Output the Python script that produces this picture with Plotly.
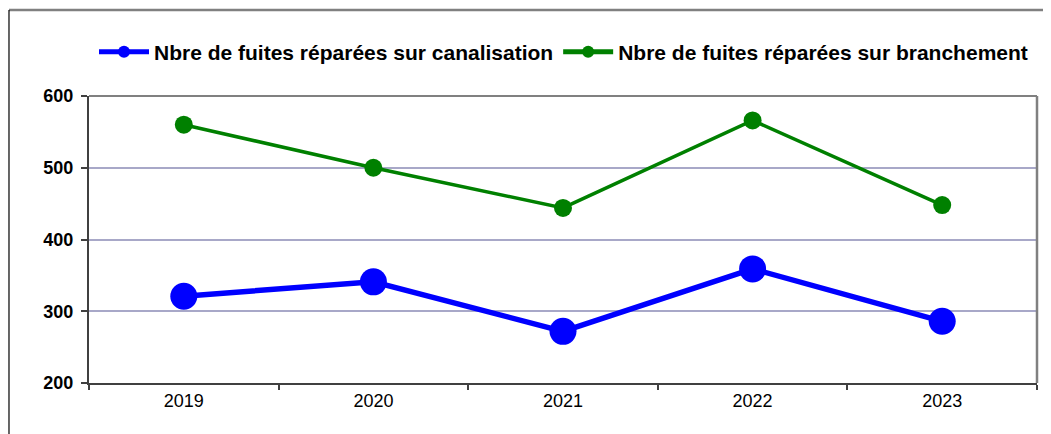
import plotly.graph_objects as go

years = ["2019", "2020", "2021", "2022", "2023"]
canalisation = [321, 341, 272, 359, 286]
branchement = [560, 500, 444, 566, 448]
name_canal = "Nbre de fuites réparées sur canalisation"
name_branch = "Nbre de fuites réparées sur branchement"
y_ticks = [200, 300, 400, 500, 600]

fig = go.Figure()
fig.add_trace(go.Scatter(
    x=years, y=canalisation, name=name_canal, mode="lines+markers",
    line=dict(color="#0000FF", width=5.5),
    marker=dict(color="#0000FF", size=27),
))
fig.add_trace(go.Scatter(
    x=years, y=branchement, name=name_branch, mode="lines+markers",
    line=dict(color="#008000", width=3.5),
    marker=dict(color="#008000", size=18),
))

# outer chart frame (only top and left visible in reference)
fig.add_shape(type="line", xref="paper", yref="paper", x0=-0.0844, x1=1.03, y0=1.2997, y1=1.2997,
              line=dict(color="#808080", width=2.5))
fig.add_shape(type="line", xref="paper", yref="paper", x0=-0.0844, x1=-0.0844, y0=-0.3, y1=1.2997,
              line=dict(color="#000000", width=1.2))
# plot-area top and right border
fig.add_shape(type="line", xref="paper", yref="paper", x0=0, x1=1, y0=1, y1=1,
              line=dict(color="#808080", width=2))
fig.add_shape(type="line", xref="paper", yref="paper", x0=1, x1=1, y0=0, y1=1,
              line=dict(color="#808080", width=2.5))

fig.update_layout(
    width=1051, height=434,
    margin=dict(l=81, r=22, t=88, b=59),
    paper_bgcolor="white", plot_bgcolor="white",
    font=dict(family="Liberation Sans, Arial, sans-serif", color="black"),
    showlegend=True,
    legend=dict(
        orientation="h", xref="container", yref="container",
        x=86 / 1051, xanchor="left", y=1 - 44 / 434, yanchor="middle",
        font=dict(size=21, family="Liberation Sans, Arial, sans-serif", weight="bold"),
        itemwidth=50, tracegroupgap=0, itemsizing="constant",
        bgcolor="rgba(0,0,0,0)",
    ),
    xaxis=dict(
        type="category", tickson="boundaries", ticks="outside", ticklen=5,
        tickcolor="#404040", tickwidth=1.5,
        showline=True, linecolor="#404040", linewidth=2,
        showgrid=False, tickfont=dict(size=18, color="black"),
        range=[-0.5, 4.5], zeroline=False,
    ),
    yaxis=dict(
        range=[200, 600], tickvals=y_ticks, ticks="outside", ticklen=6,
        tickcolor="#404040", tickwidth=1.5,
        showline=True, linecolor="#404040", linewidth=2,
        showgrid=True, gridcolor="#A8A8C8", gridwidth=1.5,
        tickfont=dict(size=18, color="black", weight="bold"),
        ticklabelstandoff=4,
        zeroline=False,
    ),
)

fig.write_html("out.html")
